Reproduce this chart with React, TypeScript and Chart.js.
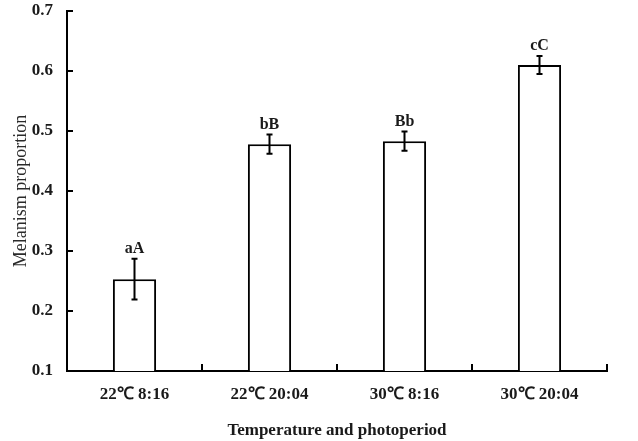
import React, { useEffect, useRef } from "react";
import { Chart, registerables } from "chart.js";

Chart.register(...registerables);

const categories = ["22℃ 8:16", "22℃ 20:04", "30℃ 8:16", "30℃ 20:04"];
const means = [0.253, 0.478, 0.483, 0.61];
const errors = [0.034, 0.016, 0.016, 0.015];
const letters = ["aA", "bB", "Bb", "cC"];
const yTicks = [0.1, 0.2, 0.3, 0.4, 0.5, 0.6, 0.7];

const FONT = "'Liberation Serif', 'Times New Roman', serif";
const TEXT = "#1a1a1a";

const annotations = {
  id: "annotations",
  afterDatasetsDraw(chart: any) {
    const ctx = chart.ctx;
    const yScale = chart.scales.y;
    const meta = chart.getDatasetMeta(0);
    ctx.save();
    ctx.strokeStyle = "#000";
    ctx.lineWidth = 2;
    meta.data.forEach((bar: any, i: number) => {
      const x = bar.x;
      const top = yScale.getPixelForValue(means[i] + errors[i]);
      const bot = yScale.getPixelForValue(means[i] - errors[i]);
      ctx.beginPath();
      ctx.moveTo(x, top);
      ctx.lineTo(x, bot);
      ctx.moveTo(x - 3, top);
      ctx.lineTo(x + 3, top);
      ctx.moveTo(x - 3, bot);
      ctx.lineTo(x + 3, bot);
      ctx.stroke();
      ctx.fillStyle = TEXT;
      ctx.font = `bold 16px ${FONT}`;
      ctx.textAlign = "center";
      ctx.textBaseline = "alphabetic";
      ctx.fillText(letters[i], x, top - 6);
    });
    ctx.restore();
  },
  afterDraw(chart: any) {
    const ctx = chart.ctx;
    const xScale = chart.scales.x;
    const yScale = chart.scales.y;
    const area = chart.chartArea;
    ctx.save();
    ctx.strokeStyle = "#000";
    ctx.lineWidth = 2;
    ctx.beginPath();
    yTicks.forEach((v) => {
      const y = Math.round(yScale.getPixelForValue(v));
      ctx.moveTo(area.left, y);
      ctx.lineTo(area.left + 6, y);
    });
    const n = categories.length;
    for (let i = 0; i <= n; i++) {
      const x = Math.round(xScale.getPixelForValue(i - 0.5));
      ctx.moveTo(x, area.bottom);
      ctx.lineTo(x, area.bottom - 7);
    }
    ctx.stroke();
    ctx.restore();
  },
};

export default function App() {
  const ref = useRef<HTMLCanvasElement>(null);
  useEffect(() => {
    if (!ref.current) return;
    const chart = new Chart(ref.current, {
      type: "bar",
      data: {
        labels: categories,
        datasets: [
          {
            data: means,
            backgroundColor: "#ffffff",
            borderColor: "#000000",
            borderWidth: 2,
            borderSkipped: false,
            barPercentage: 0.32,
            categoryPercentage: 1,
          },
        ],
      },
      options: {
        animation: false,
        responsive: false,
        layout: { padding: { left: 0, right: 31, top: 11, bottom: 0 } },
        plugins: { legend: { display: false }, tooltip: { enabled: false } },
        scales: {
          x: {
            grid: { display: false, drawTicks: false },
            border: { display: true, color: "#000", width: 2 },
            ticks: {
              color: TEXT,
              font: { family: FONT, size: 17, weight: "bold" },
              padding: 13,
              maxRotation: 0,
            },
            title: {
              display: true,
              text: "Temperature and photoperiod",
              color: TEXT,
              font: { family: FONT, size: 17, weight: "bold" },
              padding: { top: 14, bottom: 0 },
            },
            afterFit(scale: any) {
              scale.height = 70;
              scale.paddingLeft = 0;
              scale.paddingRight = 0;
            },
          },
          y: {
            min: 0.1,
            max: 0.7,
            grid: { display: false, drawTicks: false },
            border: { display: true, color: "#000", width: 2 },
            ticks: {
              stepSize: 0.1,
              color: TEXT,
              font: { family: FONT, size: 17, weight: "bold" },
              padding: 14,
              callback: (v: any) => Number(v).toFixed(1),
            },
            title: {
              display: true,
              text: "Melanism proportion",
              color: "#2a2a2a",
              font: { family: FONT, size: 18, weight: "normal" },
              padding: { top: 10, bottom: 0 },
            },
            afterFit(scale: any) {
              scale.width = 67;
              scale.paddingTop = 0;
              scale.paddingBottom = 0;
            },
          },
        },
      },
      plugins: [annotations],
    });
    return () => chart.destroy();
  }, []);
  return (
    <div style={{ position: "fixed", left: 0, top: 0, width: 638, height: 441, background: "#fff" }}>
      <canvas ref={ref} width={638} height={441} />
    </div>
  );
}
